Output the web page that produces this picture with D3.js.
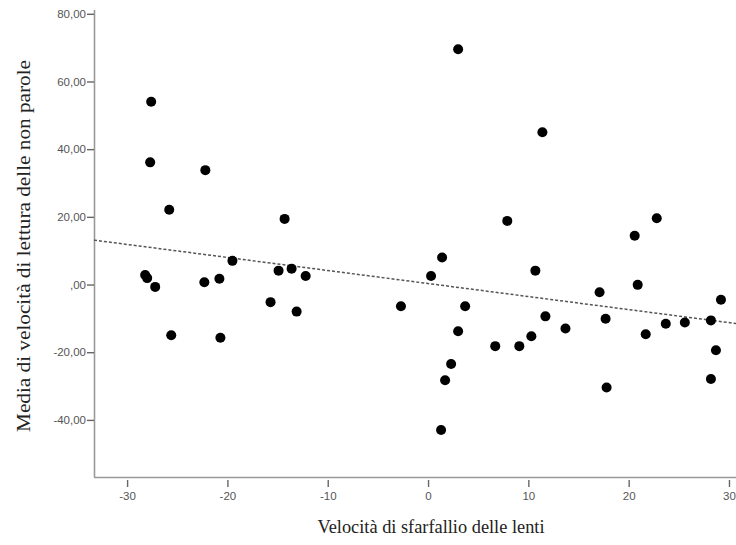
<!DOCTYPE html>
<html>
<head>
<meta charset="utf-8">
<script src="https://cdn.jsdelivr.net/npm/d3@7"></script>
<style>
  body { margin: 0; background: #fff; }
  .tick text { font-family: Arial, "Liberation Sans", sans-serif; font-size: 11.5px; fill: #555; }
  .axis-title { font-family: "Liberation Serif", "Times New Roman", serif; font-size: 19px; fill: #222; }
</style>
</head>
<body>
<svg id="chart"></svg>
<script>
// flicker speed of the lenses (x) vs. mean reading speed of non-words (y)
const flickerSpeed = [
  -27.6, -27.7, -22.2, -25.8, -14.3, -19.5, -28.2, -28.0, -27.2, -22.3,
  -20.8, -14.9, -13.6, -12.2, -15.7, -13.1, -2.7, -25.6, -20.7,
  3.0, 11.4, 7.9, 22.8, 20.6, 1.4, 0.3, 10.7, 17.1, 20.9,
  29.2, 3.7, 11.7, 13.7, 3.0, 6.7, 9.1, 10.3, 17.7, 21.7,
  23.7, 25.6, 28.2, 28.7, 28.2, 2.3, 1.7, 17.8, 1.3
];
const readingSpeed = [
  54.0, 36.1, 33.8, 22.1, 19.4, 7.0, 2.8, 1.9, -0.7, 0.7,
  1.7, 4.1, 4.7, 2.5, -5.2, -8.0, -6.4, -15.0, -15.7,
  69.5, 45.0, 18.8, 19.6, 14.4, 8.0, 2.5, 4.1, -2.3, -0.1,
  -4.5, -6.4, -9.4, -13.0, -13.8, -18.2, -18.2, -15.3, -10.1, -14.7,
  -11.6, -11.2, -10.6, -19.4, -27.9, -23.5, -28.3, -30.4, -43.0
];
const xTicks = [-30, -20, -10, 0, 10, 20, 30];
const yTicks = [-40, -20, 0, 20, 40, 60, 80];
const fitIntercept = 0.3;
const fitSlope = -0.385;
const xTitle = 'Velocità di sfarfallio delle lenti';
const yTitle = 'Media di velocità di lettura delle non parole';

const W = 736, H = 545;
const plotLeft = 94, plotRight = 736, plotTop = 10, plotBottom = 477;

const svg = d3.select('#chart').attr('width', W).attr('height', H);

const x = d3.scaleLinear().domain([-33.3, 30.7]).range([plotLeft, plotRight]);
const y = d3.scaleLinear().domain([-56.87, 81.12]).range([plotBottom, plotTop]);

// SPSS style: comma decimals, plain hyphen, no leading zero
const fmt = d => d3.format('.2f')(d).replace('\u2212', '-').replace('.', ',').replace(/^0/, '');
const fmtX = d => String(d);

// axes
const xAxis = svg.append('g')
  .attr('transform', 'translate(0,' + plotBottom + ')')
  .call(d3.axisBottom(x).tickValues(xTicks).tickSize(10).tickPadding(5).tickFormat(fmtX));
const yAxis = svg.append('g')
  .attr('transform', 'translate(' + plotLeft + ',0)')
  .call(d3.axisLeft(y).tickValues(yTicks).tickSize(7).tickPadding(1).tickFormat(fmt));

[xAxis, yAxis].forEach(g => {
  g.select('.domain').attr('stroke', '#999').attr('stroke-width', 1.6);
  g.selectAll('.tick line').attr('stroke', '#666').attr('stroke-width', 1.4);
});
yAxis.select('.domain').attr('d', 'M0.5,' + plotTop + 'V' + plotBottom);
xAxis.select('.domain').attr('d', 'M' + plotLeft + ',0.5H' + plotRight);
// x ticks start a bit below the axis line
xAxis.selectAll('.tick line').attr('y1', 3);

// fit line
const xd = x.domain();
svg.append('line')
  .attr('x1', x(xd[0])).attr('y1', y(fitIntercept + fitSlope * xd[0]))
  .attr('x2', x(xd[1])).attr('y2', y(fitIntercept + fitSlope * xd[1]))
  .attr('stroke', '#555')
  .attr('stroke-width', 1.5)
  .attr('stroke-dasharray', '3,2');

// points
svg.append('g').selectAll('circle')
  .data(flickerSpeed.map((v, i) => [v, readingSpeed[i]]))
  .join('circle')
  .attr('cx', d => x(d[0]))
  .attr('cy', d => y(d[1]))
  .attr('r', 5)
  .attr('fill', '#000');

// titles
svg.append('text')
  .attr('class', 'axis-title')
  .attr('x', 431).attr('y', 533)
  .attr('text-anchor', 'middle')
  .attr('textLength', 227)
  .attr('lengthAdjust', 'spacingAndGlyphs')
  .text(xTitle);

svg.append('text')
  .attr('class', 'axis-title')
  .attr('transform', 'translate(30,246) rotate(-90)')
  .attr('text-anchor', 'middle')
  .attr('textLength', 372)
  .attr('lengthAdjust', 'spacingAndGlyphs')
  .text(yTitle);
</script>
</body>
</html>
